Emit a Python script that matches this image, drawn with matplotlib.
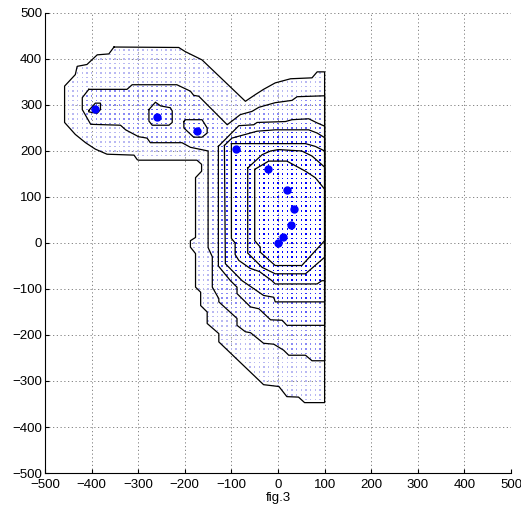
import numpy as np
import matplotlib.pyplot as plt
from matplotlib.path import Path

# sample points (large blue dots)
pts_x = [-392, -259, -174, -90, -22, 19, 34, 27, 11, 0]
pts_y = [292, 274, 244, 205, 161, 116, 74, 39, 14, 1]

# contour outlines (x, y)
c1 = [(-352, 426), (-213, 425), (-199, 416), (-163, 398), (-70, 308), (-48, 323), (-31, 334),
      (-6, 348), (27, 357), (73, 359), (84, 372), (100, 372), (100, -347), (57, -347), (44, -335),
      (19, -334), (2, -312), (-31, -308), (-127, -215), (-127, -197), (-152, -175), (-152, -150),
      (-166, -136), (-166, -107), (-177, -96), (-177, -23), (-188, -9), (-188, 5), (-177, 12),
      (-177, 142), (-164, 156), (-164, 171), (-174, 180), (-299, 180), (-302, 181), (-309, 191),
      (-367, 193), (-392, 204), (-413, 218), (-435, 236), (-458, 262), (-458, 341), (-435, 366),
      (-431, 384), (-410, 388), (-388, 409), (-363, 411), (-352, 426)]
c2 = [(-406, 334), (-324, 334), (-313, 344), (-217, 344), (-188, 330), (-181, 321), (-170, 319),
      (-109, 257), (-81, 279), (-56, 286), (-41, 295), (-6, 305), (30, 310), (41, 318), (100, 320),
      (100, -256), (73, -256),
      (59, -244), (23, -244), (12, -233), (-9, -220), (-31, -218), (-59, -195), (-70, -193),
      (-88, -179), (-88, -164), (-127, -128), (-127, -121), (-141, -96), (-141, -30), (-150, -10),
      (-150, 200), (-188, 208), (-206, 218), (-274, 218), (-281, 228), (-299, 231), (-327, 246),
      (-338, 256), (-402, 258), (-420, 290), (-420, 316), (-406, 334)]
c3 = [(-128, 210), (-84, 255), (-52, 257), (-45, 262), (16, 264), (30, 268), (66, 270), (84, 261),
      (100, 254), (100, -179), (19, -179), (9, -168), (-16, -167), (-41, -143), (-59, -139),
      (-88, -110), (-88, -96), (-102, -82), (-128, -50), (-128, 210)]
c4 = [(-115, 212), (-99, 228), (-70, 236), (-45, 243), (-6, 246), (66, 246), (84, 239),
      (100, 229), (100, -128), (-6, -128), (-9, -118), (-31, -114), (-77, -82), (-113, -45),
      (-115, 212)]
c5 = [(-100, 216), (59, 216), (80, 210), (100, 200), (100, -82), (94, -82), (84, -89), (-6, -89),
      (-13, -82), (-40, -62), (-60, -55), (-84, -38), (-92, -25), (-92, 0), (-100, 10), (-100, 216)]
c6 = [(-65, 163), (-34, 192), (-16, 200), (1, 203), (51, 200), (73, 189), (100, 165), (100, -31),
      (59, -67), (-6, -67), (-34, -53), (-65, -22), (-65, 163)]
c7 = [(-50, 160), (-20, 178), (19, 178), (59, 156), (80, 142), (100, 117), (100, 5), (51, -49),
      (-6, -49), (-38, -20), (-38, -9), (-50, 5), (-50, 160)]
c8 = [(-406, 288), (-392, 304), (-381, 304), (-381, 290), (-388, 282), (-406, 285), (-406, 288)]
c9 = [(-277, 290), (-263, 306), (-252, 298), (-231, 294), (-227, 287), (-227, 262), (-234, 256),
      (-270, 256), (-277, 265), (-277, 290)]
c10 = [(-202, 264), (-199, 268), (-163, 268), (-152, 250), (-152, 239), (-163, 230), (-181, 230),
       (-202, 250), (-202, 264)]
contours = [c1, c2, c3, c4, c5, c6, c7, c8, c9, c10]

step = 10  # spacing of the evaluation mesh

plt.rcParams['font.family'] = ['Liberation Sans', 'DejaVu Sans']
fig = plt.figure(figsize=(5.21, 5.17), dpi=100)
ax = fig.add_axes([0.0864, 0.0851, 0.8944, 0.8898])

# mesh dots, shaded by how many contours enclose them
gx, gy = np.meshgrid(np.arange(-460, 101, step), np.arange(-350, 431, step))
mesh = np.column_stack([gx.ravel(), gy.ravel()])
inside = Path(c1).contains_points(mesh, radius=1)
mesh = mesh[inside]
level = sum(Path(c).contains_points(mesh, radius=1).astype(int) for c in contours)
t = np.clip((level - 1) / 4.0, 0, 1)
cols = np.column_stack([0.72 * (1 - t), 0.72 * (1 - t), 0.95 + 0.05 * t])
ax.scatter(mesh[:, 0], mesh[:, 1], s=1.2, c=cols, marker='s', linewidths=0, zorder=2)

for c in contours:
    xs, ys = zip(*c)
    ax.plot(xs, ys, color='k', lw=0.9, zorder=3)

ax.plot(pts_x, pts_y, 'o', color='#0000ff', ms=5, mec='#0000ff', zorder=4)

ax.set_xlim(-500, 500)
ax.set_ylim(-500, 500)
ax.set_xticks(np.arange(-500, 501, 100))
ax.set_yticks(np.arange(-500, 501, 100))
ax.grid(True, color='0.45', ls=(0, (1.5, 3)), lw=0.6)
ax.tick_params(direction='in', length=3, labelsize=9.5)
ax.tick_params(axis='x', pad=4)
ax.tick_params(axis='y', pad=2)
ax.spines['top'].set_visible(False)
ax.spines['right'].set_visible(False)
ax.set_xlabel('fig.3', fontsize=9.5, labelpad=1)

plt.savefig('out.png', dpi=100)
